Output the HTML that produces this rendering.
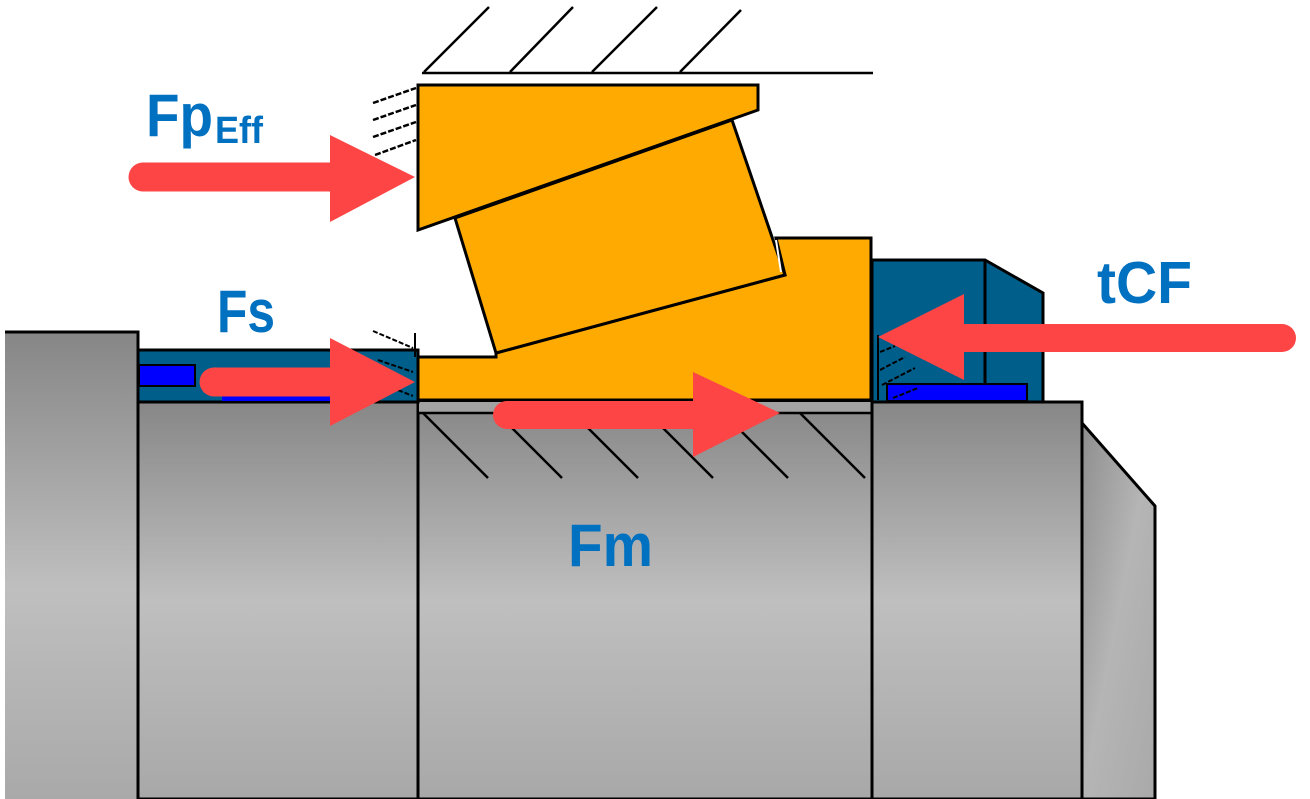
<!DOCTYPE html>
<html><head><meta charset="utf-8"><style>
html,body{margin:0;padding:0;background:#fff;}
svg{display:block;}
</style></head><body>
<svg width="1310" height="799" viewBox="0 0 1310 799" xmlns="http://www.w3.org/2000/svg">
<defs>
<linearGradient id="g1" x1="0" y1="0" x2="0" y2="1">
<stop offset="0" stop-color="#868686"/>
<stop offset="0.55" stop-color="#bfbfbf"/>
<stop offset="1" stop-color="#a9a9a9"/>
</linearGradient>
<linearGradient id="g2" x1="0" y1="0" x2="0" y2="1">
<stop offset="0" stop-color="#878787"/>
<stop offset="0.5" stop-color="#bfbfbf"/>
<stop offset="1" stop-color="#a8a8a8"/>
</linearGradient>
<linearGradient id="g3" x1="0" y1="0" x2="1" y2="1">
<stop offset="0" stop-color="#8e8e8e"/>
<stop offset="0.5" stop-color="#b5b5b5"/>
<stop offset="1" stop-color="#a9a9a9"/>
</linearGradient>
</defs>
<rect width="1310" height="799" fill="#fff"/>

<!-- gray bodies -->
<rect x="5" y="332" width="133" height="467" fill="url(#g1)"/>
<path d="M5,332 H138 V799" fill="none" stroke="#000" stroke-width="3"/>
<rect x="138" y="402" width="280" height="397" fill="url(#g2)" stroke="#000" stroke-width="3"/>
<rect x="418" y="402" width="454" height="397" fill="url(#g2)" stroke="#000" stroke-width="3"/>
<rect x="419" y="402" width="452" height="11" fill="#a2a2a2"/>
<line x1="418" y1="413" x2="872" y2="413" stroke="#000" stroke-width="2.5"/>
<rect x="872" y="402" width="210" height="397" fill="url(#g2)" stroke="#000" stroke-width="3"/>
<polygon points="1082,423 1155,506 1155,799 1082,799" fill="url(#g3)" stroke="#000" stroke-width="3"/>

<!-- middle hatch -->
<g stroke="#000" stroke-width="2.5">
<line x1="423" y1="413" x2="488" y2="478"/>
<line x1="497" y1="413" x2="562" y2="478"/>
<line x1="573" y1="413" x2="638" y2="478"/>
<line x1="648" y1="413" x2="713" y2="478"/>
<line x1="723" y1="413" x2="788" y2="478"/>
<line x1="800" y1="413" x2="865" y2="478"/>
</g>

<!-- left teal seal -->
<rect x="138" y="350" width="280" height="52" fill="#005e8a" stroke="#000" stroke-width="3"/>
<rect x="139" y="365" width="56" height="21" fill="#0000ff" stroke="#000" stroke-width="2"/>
<rect x="222" y="395" width="110" height="6" fill="#0000ff"/>
<g stroke="#000" stroke-width="2" stroke-dasharray="5 2">
<line x1="373" y1="331" x2="413" y2="348"/>
<line x1="378" y1="360" x2="413" y2="372"/>
<line x1="385" y1="385" x2="413" y2="396"/>
</g>
<line x1="415" y1="333" x2="415" y2="357" stroke="#000" stroke-width="2"/>

<!-- right teal -->
<polygon points="872,260 985,260 1043,293 1043,402 872,402" fill="#005e8a" stroke="#000" stroke-width="3"/>
<line x1="985" y1="260" x2="985" y2="384" stroke="#000" stroke-width="3"/>
<rect x="887" y="384" width="140" height="17" fill="#0000ff" stroke="#000" stroke-width="2"/>
<line x1="878" y1="335" x2="878" y2="400" stroke="#000" stroke-width="2"/>
<g stroke="#000" stroke-width="2" stroke-dasharray="5 2">
<line x1="880" y1="352" x2="895" y2="346"/>
<line x1="880" y1="370" x2="905" y2="357"/>
<line x1="882" y1="385" x2="915" y2="368"/>
<line x1="893" y1="398" x2="918" y2="388"/>
</g>

<!-- orange parts -->
<polygon points="418,357 496,357 496,353 785,275 776,238 871,238 871,400 418,400" fill="#ffaa00" stroke="#000" stroke-width="3" stroke-linejoin="miter"/>
<polygon points="455,218 732,120 785,275 496,353" fill="#ffaa00" stroke="#000" stroke-width="3"/>
<polygon points="418,85 758,85 758,110 418,230" fill="#ffaa00" stroke="#000" stroke-width="3"/>
<line x1="776" y1="240" x2="781" y2="272" stroke="#fff" stroke-width="2"/>

<!-- top ground -->
<line x1="422" y1="73" x2="873" y2="73" stroke="#000" stroke-width="2.5"/>
<g stroke="#000" stroke-width="2.5">
<line x1="424" y1="72" x2="489" y2="7"/>
<line x1="510" y1="72" x2="573" y2="7"/>
<line x1="592" y1="72" x2="657" y2="7"/>
<line x1="680" y1="72" x2="741" y2="10"/>
</g>
<g stroke="#000" stroke-width="2.5" stroke-dasharray="6 2">
<line x1="373" y1="103" x2="416" y2="88"/>
<line x1="373" y1="120" x2="416" y2="105"/>
<line x1="373" y1="137" x2="416" y2="122"/>
<line x1="375" y1="155" x2="416" y2="140"/>
</g>

<!-- arrows -->
<g fill="#fd4545" stroke="none">
<line x1="143" y1="177" x2="336" y2="177" stroke="#fd4545" stroke-width="29" stroke-linecap="round"/>
<polygon points="330,135 415,177 330,222"/>
<line x1="214" y1="382" x2="336" y2="382" stroke="#fd4545" stroke-width="29" stroke-linecap="round"/>
<polygon points="330,338 415,382 330,426"/>
<line x1="507" y1="415" x2="700" y2="415" stroke="#fd4545" stroke-width="28" stroke-linecap="round"/>
<polygon points="693,372 780,413 693,457"/>
<line x1="1282" y1="338" x2="958" y2="338" stroke="#fd4545" stroke-width="28" stroke-linecap="round"/>
<polygon points="964,294 878,337 964,380"/>
</g>

<!-- labels -->
<g font-family="'Liberation Sans', sans-serif" font-weight="bold" fill="#0070c0">
<text x="146" y="136" font-size="60" textLength="67" lengthAdjust="spacingAndGlyphs">Fp</text>
<text x="215" y="143" font-size="38" textLength="48" lengthAdjust="spacingAndGlyphs">Eff</text>
<text x="217" y="332" font-size="60" textLength="58" lengthAdjust="spacingAndGlyphs">Fs</text>
<text x="1097" y="303" font-size="59" textLength="95" lengthAdjust="spacingAndGlyphs">tCF</text>
<text x="568" y="566" font-size="60" textLength="85" lengthAdjust="spacingAndGlyphs">Fm</text>
</g>
</svg>
</body></html>
